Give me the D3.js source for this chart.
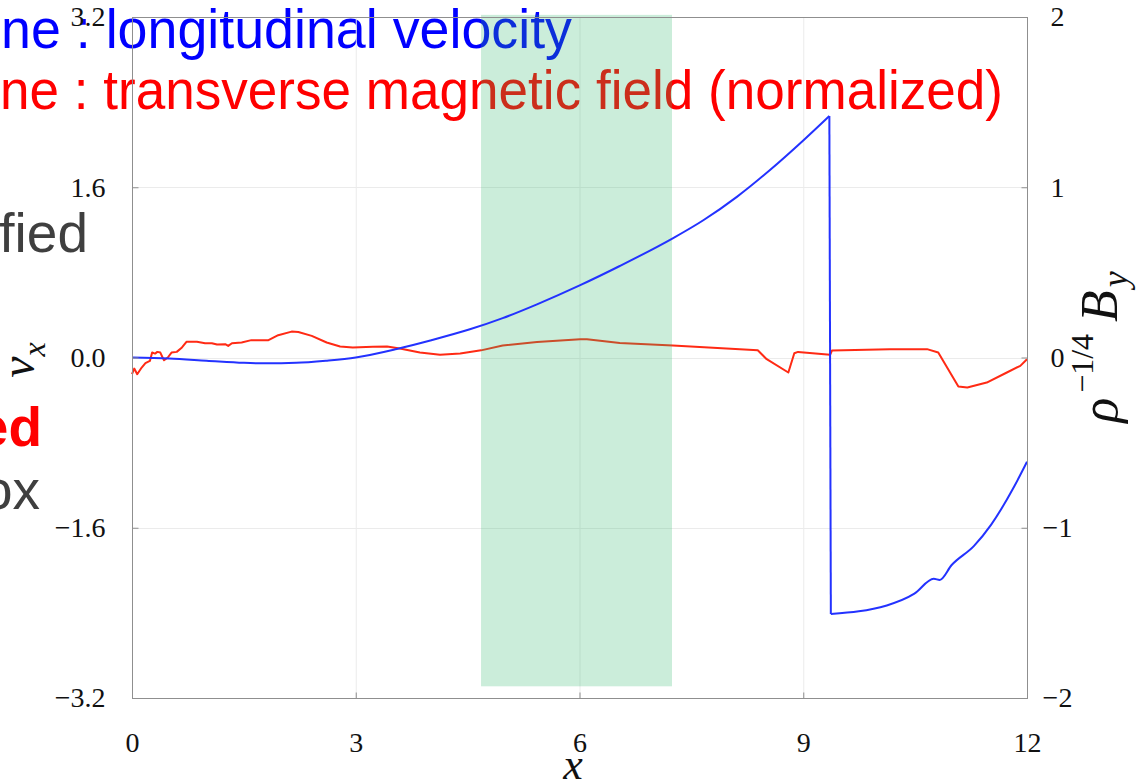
<!DOCTYPE html>
<html><head><meta charset="utf-8">
<script src="https://cdn.jsdelivr.net/npm/d3@7"></script>
<style>
html,body{margin:0;padding:0;background:#fff;}
svg{display:block;}
</style></head>
<body>
<svg id="chart" width="1139" height="784"></svg>
<script>
// ---- data ----
const xTicks = [0, 3, 6, 9, 12];
const vxTicks = [-3.2, -1.6, 0, 1.6, 3.2];
const byTicks = [-2, -1, 0, 1, 2];
const bandRange = [4.68, 7.24];
const bandV = [-3.09, 3.22];

const blueX = [0, 0.5, 1.0, 1.5, 1.8, 2.2, 2.6, 3.0, 3.55, 4.0, 4.53, 4.97, 5.43, 6.01, 6.54, 7.25, 7.66, 8.11, 8.55, 9.0, 9.35,
               9.37, 10.12, 10.49, 10.75, 10.83, 10.99, 11.29, 11.52, 11.83, 12.0];
const blueV = [0, -0.01, -0.03, -0.05, -0.055, -0.05, -0.03, 0.0, 0.08, 0.16, 0.265, 0.37, 0.50, 0.68, 0.86, 1.12, 1.29, 1.51, 1.76, 2.04, 2.27,
               -2.41, -2.33, -2.22, -2.08, -2.09, -1.95, -1.77, -1.57, -1.21, -0.98];
const shockIndex = 20;

const redX = [0.00,0.03,0.07,0.13,0.18,0.24,0.27,0.31,0.34,0.38,0.41,0.43,0.48,0.53,0.60,0.67,0.73,0.87,0.98,1.07,1.14,1.25,1.29,1.34,1.47,1.60,1.83,1.96,2.14,2.23,2.41,2.61,2.79,2.96,3.23,3.42,3.59,3.86,4.13,4.40,4.53,4.68,4.97,5.43,6.01,6.10,6.54,7.25,8.15,8.39,8.51,8.80,8.88,8.93,9.36,9.385,10.16,10.66,10.81,11.08,11.20,11.46,11.73,11.91,12.0];
const redB = [-0.098,-0.065,-0.098,-0.059,-0.033,-0.020,0.029,0.023,0.033,0.029,0.0,-0.016,0.0,0.029,0.033,0.059,0.092,0.092,0.084,0.084,0.076,0.078,0.068,0.084,0.088,0.102,0.102,0.131,0.152,0.150,0.127,0.088,0.065,0.059,0.063,0.065,0.053,0.029,0.016,0.023,0.032,0.042,0.071,0.091,0.107,0.107,0.085,0.071,0.049,0.043,-0.010,-0.088,0.025,0.033,0.016,0.041,0.049,0.049,0.029,-0.170,-0.176,-0.147,-0.088,-0.049,-0.010];

// ---- layout ----
const svg = d3.select("#chart");
const L = 132, R = 1027, T = 17, B = 698;
const x = d3.scaleLinear([0, 12], [L, R]);
const yL = d3.scaleLinear([-3.2, 3.2], [B, T]);
const yR = d3.scaleLinear([-2, 2], [B, T]);

// ---- background slide text (cropped) ----
const sans = "'Liberation Sans', Arial, Helvetica, sans-serif";
const serif = "'Liberation Serif', 'Times New Roman', serif";
const slide = svg.append("g").attr("font-family", sans).attr("font-size", 55);
slide.append("text").attr("x", 1).attr("y", 48).attr("textLength", 571).attr("lengthAdjust", "spacingAndGlyphs")
  .attr("fill", "#0000ff").text("ne : longitudinal  velocity");
slide.append("text").attr("x", 0).attr("y", 109).attr("textLength", 1003).attr("lengthAdjust", "spacingAndGlyphs")
  .attr("fill", "#ff0000").text("ne : transverse magnetic field (normalized)");
slide.append("text").attr("x", 88).attr("y", 252).attr("text-anchor", "end")
  .attr("fill", "#3f3f3f").text("fied");
slide.append("text").attr("x", 42).attr("y", 446).attr("text-anchor", "end")
  .attr("fill", "#ff0000").attr("font-weight", "bold").text("ed");
slide.append("text").attr("x", 40).attr("y", 509).attr("text-anchor", "end")
  .attr("fill", "#3f3f3f").text("ox");

// ---- grid ----
const grid = svg.append("g").attr("stroke", "#ebebeb").attr("stroke-width", 1);
grid.selectAll("line.v").data(xTicks.filter(d => d > 0 && d < 12)).join("line")
  .attr("x1", d => x(d) + 0.5).attr("x2", d => x(d) + 0.5).attr("y1", T).attr("y2", B);
grid.selectAll("line.h").data(vxTicks.filter(d => Math.abs(d) < 3.2)).join("line")
  .attr("y1", d => Math.round(yL(d)) + 0.5).attr("y2", d => Math.round(yL(d)) + 0.5).attr("x1", L).attr("x2", R);

// ---- red line ----
const redPts = redX.map((d, i) => [d, redB[i]]);
svg.append("path").datum(redPts)
  .attr("fill", "none").attr("stroke", "#ff2a14").attr("stroke-width", 2).attr("stroke-linejoin", "round")
  .attr("d", d3.line().x(d => x(d[0])).y(d => yR(d[1])));

// ---- green band ----
svg.append("rect")
  .attr("x", x(bandRange[0])).attr("width", x(bandRange[1]) - x(bandRange[0]))
  .attr("y", yL(bandV[1])).attr("height", yL(bandV[0]) - yL(bandV[1]))
  .attr("fill", "rgb(46,184,107)").attr("fill-opacity", 0.25);

// ---- blue line ----
const bluePts = blueX.map((d, i) => [d, blueV[i]]);
const smooth = d3.line().x(d => x(d[0])).y(d => yL(d[1])).curve(d3.curveMonotoneX);
const straight = d3.line().x(d => x(d[0])).y(d => yL(d[1]));
const blueG = svg.append("g").attr("fill", "none").attr("stroke", "#2332ff").attr("stroke-width", 2).attr("stroke-linejoin", "round");
blueG.append("path").attr("d", smooth(bluePts.slice(0, shockIndex + 1)));
blueG.append("path").attr("d", straight(bluePts.slice(shockIndex, shockIndex + 2)));
blueG.append("path").attr("d", smooth(bluePts.slice(shockIndex + 1)));

// ---- frame ----
svg.append("rect").attr("x", L + 0.5).attr("y", T + 0.5).attr("width", R - L).attr("height", B - T)
  .attr("fill", "none").attr("stroke", "#8f8f8f").attr("stroke-width", 1);

// ---- axes ----
const axL = svg.append("g").attr("transform", `translate(${L + 0.5},0)`)
  .call(d3.axisLeft(yL).tickValues(vxTicks).tickFormat(d3.format(".1f")).tickSize(-6).tickPadding(27));
const axR = svg.append("g").attr("transform", `translate(${R + 0.5},0)`)
  .call(d3.axisRight(yR).tickValues(byTicks).tickFormat(d3.format("d")).tickSize(-6).tickPadding(30));
const axB = svg.append("g").attr("transform", `translate(0,${B + 0.5})`)
  .call(d3.axisBottom(x).tickValues(xTicks).tickFormat(d3.format("d")).tickSize(-6).tickPadding(34));
[axL, axR, axB].forEach(a => {
  a.select(".domain").remove();
  a.selectAll(".tick line").attr("stroke", "#8f8f8f");
  a.selectAll("text").attr("font-family", serif).attr("font-size", 28).attr("fill", "#111");
});
axR.selectAll("text").attr("text-anchor", "middle");

// ---- axis titles ----
svg.append("text").attr("x", 573).attr("y", 779).attr("text-anchor", "middle")
  .attr("font-family", serif).attr("font-style", "italic").attr("font-size", 44).attr("fill", "#111").text("x");

const vt = svg.append("text").attr("transform", "translate(34,360) rotate(-90)")
  .attr("text-anchor", "middle").attr("font-family", serif).attr("font-style", "italic").attr("fill", "#111");
vt.append("tspan").attr("font-size", 48).text("v");
vt.append("tspan").attr("font-size", 32).attr("dy", 11).text("x");

const bt = svg.append("text").attr("transform", "translate(1117,347) rotate(-90)")
  .attr("text-anchor", "middle").attr("font-family", serif).attr("fill", "#111");
bt.append("tspan").attr("font-size", 52).attr("font-style", "italic").text("ρ");
bt.append("tspan").attr("font-size", 32).attr("dy", -24).attr("dx", 5).text("−1/4");
bt.append("tspan").attr("font-size", 52).attr("font-style", "italic").attr("dy", 24).attr("dx", 12).text("B");
bt.append("tspan").attr("font-size", 36).attr("font-style", "italic").attr("dy", 10).attr("dx", 3).text("y");
</script>
</body></html>
